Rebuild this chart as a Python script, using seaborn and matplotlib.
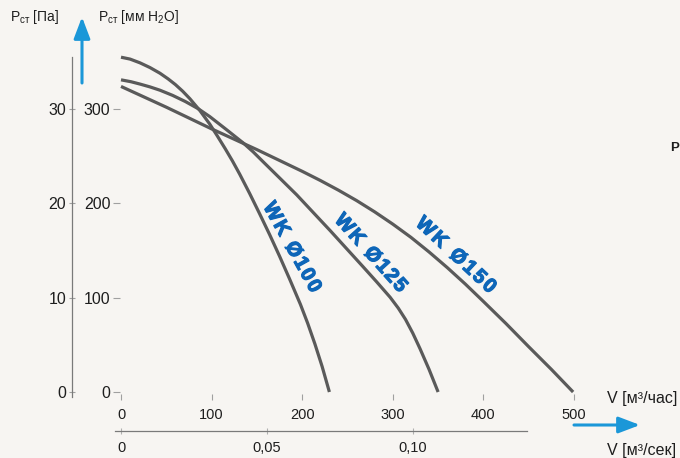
import numpy as np
import pandas as pd
import matplotlib
matplotlib.use("Agg")
import matplotlib.pyplot as plt
import matplotlib.patheffects as pe
import seaborn as sns

# curve data: V in m3/h, P in the inner-axis units
v100 = [0, 10, 21, 32, 43, 52, 60, 68, 76, 87, 98, 106, 115, 123, 131,
        142, 153, 164, 175, 186, 198, 206, 214, 222, 230]
p100 = [355, 353, 349, 344, 338, 332, 326, 319, 311, 298.5, 284, 272, 258,
        245, 231, 210.5, 189, 167, 144, 120, 93, 73, 51, 27, 0]

v125 = [0, 11, 21, 32, 43, 57, 71, 85, 98, 116, 135, 146, 157, 175, 194,
        212, 231, 249, 267, 282, 297, 306, 314, 322, 330, 340, 350]
p125 = [331, 329, 326.5, 323.5, 320, 314.5, 308, 300.5, 292, 278.5, 264,
        254.5, 244, 227, 209, 190.5, 171, 152, 133, 117, 100.5, 89, 77,
        62.5, 46, 24, 0]

v150 = [0, 25, 50, 75, 100, 150, 200, 220, 240, 260, 280, 300, 320, 340,
        360, 380, 400, 425, 450, 475, 499]
p150 = [324, 313, 302, 290.5, 279, 257, 234, 224.3, 214, 203, 191, 178, 164,
        148.5, 132, 114.5, 96, 72.5, 48, 24, 0]

curve_names = ["WK Ø100", "WK Ø125", "WK Ø150"]

x_ticks = [0, 100, 200, 300, 400, 500]
y_ticks = [0, 100, 200, 300]
pa_ticks = [0, 10, 20, 30]
sec_ticks = [0, 0.05, 0.10]
sec_ticklabels = ["0", "0,05", "0,10"]

bg = "#f7f5f2"
line_col = "#5a5a5a"
blue_lbl = "#0e66b8"
blue_arrow = "#1b97d8"
txt_col = "#1e1e1e"

df = pd.concat([
    pd.DataFrame({"V": v100, "P": p100, "fan": curve_names[0]}),
    pd.DataFrame({"V": v125, "P": p125, "fan": curve_names[1]}),
    pd.DataFrame({"V": v150, "P": p150, "fan": curve_names[2]}),
])

sns.set_style("white")
plt.rcParams["font.family"] = ["Liberation Sans", "DejaVu Sans"]
plt.rcParams["mathtext.default"] = "regular"

W, H = 680, 458
fig = plt.figure(figsize=(6.8, 4.58), dpi=100)
fig.patch.set_facecolor(bg)

# axes placed so that V=0 -> px121, V=500 -> px574, P=0 -> py392, P=300 -> py109
ax = fig.add_axes([120.1 / W, 1 - 393.9 / H, 481.1 / W, 343.3 / H])
ax.set_facecolor(bg)

sns.lineplot(data=df, x="V", y="P", hue="fan", palette=[line_col] * 3,
             sort=False, estimator=None, legend=False, linewidth=2.3, ax=ax)
for ln in ax.lines:
    ln.set_clip_on(False)
    ln.set_solid_capstyle("butt")
    ln.set_solid_joinstyle("round")

ax.set_xlim(-1, 530)
ax.set_ylim(-2, 362)
ax.set_xlabel("")
ax.set_ylabel("")
for s in ax.spines.values():
    s.set_visible(False)

ax.set_xticks(x_ticks)
ax.set_yticks(y_ticks)
ax.tick_params(axis="y", left=True, length=5, width=0.8, color="#a0a0a0",
               pad=2, labelsize=11.5, labelcolor=txt_col)
ax.tick_params(axis="x", bottom=True, length=4, width=0.8, color="#a0a0a0",
               pad=6, labelsize=10.5, labelcolor=txt_col)

# outer pressure axis (Pa)
secy = ax.secondary_yaxis(-0.099, functions=(lambda y: y / 10, lambda y: y * 10))
secy.set_yticks(pa_ticks)
secy.spines["left"].set_bounds(-0.5, 35.5)
secy.spines["left"].set_color("#7a7a7a")
secy.spines["left"].set_linewidth(0.9)
secy.tick_params(direction="inout", length=5, width=0.8, color="#a0a0a0",
                 pad=2, labelsize=11.5, labelcolor=txt_col)

# lower flow axis (m3/s)
k = 0.05 / 161
secx = ax.secondary_xaxis(-0.108, functions=(lambda x: x * k, lambda x: x / k))
secx.set_xticks(sec_ticks)
secx.set_xticklabels(sec_ticklabels)
secx.spines["bottom"].set_bounds(-6.6 * k, 448 * k)
secx.spines["bottom"].set_color("#7a7a7a")
secx.spines["bottom"].set_linewidth(0.9)
secx.tick_params(direction="inout", length=5, width=0.8, color="#b0b0b0",
                 pad=5, labelsize=10.5, labelcolor=txt_col)


def px(x, y):
    return x / W, 1 - y / H


# axis titles
fig.text(*px(10, 17), r"P$_{ст}$ [Па]", fontsize=10, color=txt_col,
         ha="left", va="center")
fig.text(*px(98, 17), r"P$_{ст}$ [мм H$_{2}$O]", fontsize=10, color=txt_col,
         ha="left", va="center")
fig.text(*px(607, 399), "V [м³/час]", fontsize=11.5, color=txt_col,
         ha="left", va="center")
fig.text(*px(607, 451), "V [м³/сек]", fontsize=11.5, color=txt_col,
         ha="left", va="center")
fig.text(*px(670, 148), "P", fontsize=9.5, color=txt_col, ha="left",
         va="center", weight="bold")

# blue arrows
ax.annotate("", xy=(82, H - 17), xytext=(82, H - 83), xycoords="figure pixels",
            textcoords="figure pixels",
            arrowprops=dict(arrowstyle="-|>,head_length=1.0,head_width=0.38",
                            mutation_scale=13, color=blue_arrow, lw=2.2,
                            shrinkA=0, shrinkB=0))
ax.annotate("", xy=(640, H - 425), xytext=(574, H - 425), xycoords="figure pixels",
            textcoords="figure pixels",
            arrowprops=dict(arrowstyle="-|>,head_length=1.0,head_width=0.38",
                            mutation_scale=13, color=blue_arrow, lw=2.2,
                            shrinkA=0, shrinkB=0))

# rotated, letter-spaced curve labels
char_w = {"W": 0.944, "K": 0.722, " ": 0.278, "Ø": 0.778,
          "0": 0.556, "1": 0.556, "2": 0.556, "5": 0.556}


def spaced_label(text, cx, cy, ang, length, em=20.0):
    a = np.radians(ang)
    d = np.array([np.cos(a), np.sin(a)])
    down = np.array([-np.sin(a), np.cos(a)])
    base = sum(char_w[c] for c in text) * em
    gap = (length - base) / (len(text) - 1)
    s = -length / 2
    for c in text:
        w = char_w[c] * em
        p = np.array([cx, cy]) + d * (s + w / 2) + down * (0.716 * em / 2)
        fig.text(*px(*p), c, rotation=-ang, rotation_mode="anchor",
                 ha="center", va="baseline", fontsize=em * 0.72,
                 weight="bold", color=blue_lbl,
                 path_effects=[pe.withStroke(linewidth=0.9, foreground=blue_lbl)])
        s += w + gap


spaced_label(curve_names[0], 293.5, 246.5, 61, 100)
spaced_label(curve_names[1], 372, 252, 48, 98)
spaced_label(curve_names[2], 457, 254, 43, 102)

fig.savefig("out.png", dpi=100, facecolor=bg)
